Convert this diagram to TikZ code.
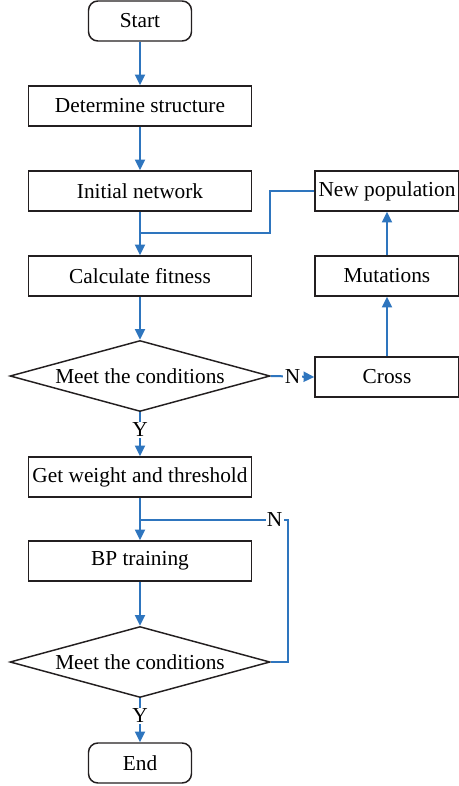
\documentclass[tikz,border=0pt]{standalone}
\usepackage{fontspec}
\setmainfont{Liberation Serif}
\usetikzlibrary{shapes.geometric,arrows.meta}

\definecolor{flowblue}{RGB}{46,117,190}
\tikzset{every picture/.style={line width=0.75pt}}
\tikzset{
  box/.style={draw={rgb,255:red,35;green,31;blue,32}, line width=1.1pt, minimum width=167.25pt, minimum height=30pt, inner sep=0pt},
  sidebox/.style={box, minimum width=108pt},
  term/.style={box, rounded corners=7pt, minimum width=77.25pt},
  test/.style={draw={rgb,255:red,35;green,31;blue,32}, line width=1.1pt, diamond, aspect=3.66, minimum width=195pt, minimum height=53.25pt, inner sep=0pt},
  flow/.style={draw=flowblue, line width=1.5pt, -{Triangle[length=8pt,width=7.5pt]}},
  link/.style={draw=flowblue, line width=1.5pt},
  tag/.style={fill=white, inner sep=1pt}
}

\begin{document}
\begin{tikzpicture}[x=0.75pt,y=0.75pt,yscale=-1,xscale=1,font=\fontsize{16}{19}\selectfont]
\useasboundingbox (0,0) rectangle (459,786);

%Shape: Rounded Rect
\draw (140,21) node [term] (start) {Start};
%Shape: Rectangle
\draw (140,106) node [box] (det) {Determine structure};
%Shape: Rectangle
\draw (140,191) node [box] (init) {Initial network};
%Shape: Rectangle
\draw (140,276) node [box] (calc) {Calculate fitness};
%Shape: Diamond
\draw (140,376) node [test] (meet1) {Meet the conditions};
%Shape: Rectangle
\draw (387,377) node [sidebox] (cross) {Cross};
%Shape: Rectangle
\draw (387,276) node [sidebox] (mut) {Mutations};
%Shape: Rectangle
\draw (387,191) node [sidebox] (newpop) {New population};
%Shape: Rectangle
\draw (140,477) node [box] (getw) {Get weight and threshold};
%Shape: Rectangle
\draw (140,561) node [box] (bp) {BP training};
%Shape: Diamond
\draw (140,662) node [test] (meet2) {Meet the conditions};
%Shape: Rounded Rect
\draw (140,763) node [term] (end) {End};

%Straight Lines
\coordinate (j1) at (140,233);
\coordinate (b1) at (270,233);
\coordinate (j2) at (140,520);
\coordinate (b2) at (288,520);

\draw [flow] (start) -- (det);
\draw [flow] (det) -- (init);
\draw [flow] (init) -- (calc);
\draw [link] (newpop.west) -| (b1) -- (j1);
\draw [flow] (calc) -- (meet1);
\draw [flow] (meet1.east) -- node [tag] {N} (cross.west);
\draw [flow] (cross) -- (mut);
\draw [flow] (mut) -- (newpop);
\draw [flow] (meet1.south) -- node [tag, pos=0.4] {Y} (getw.north);
\draw [flow] (getw) -- (bp);
\draw [link] (meet2.east) -| (b2) -- node [tag, pos=0.09] {N} (j2);
\draw [flow] (bp) -- (meet2);
\draw [flow] (meet2.south) -- node [tag, pos=0.4] {Y} (end.north);

\end{tikzpicture}
\end{document}
